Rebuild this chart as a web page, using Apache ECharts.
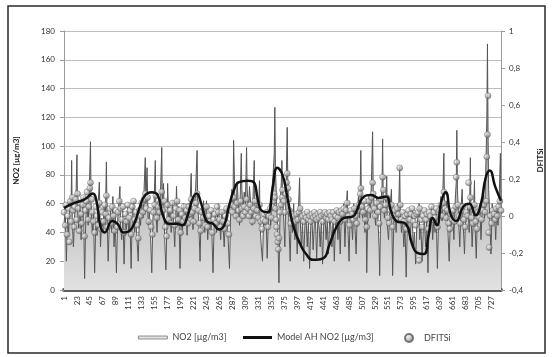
<!DOCTYPE html>
<html>
<head>
<meta charset="utf-8">
<script src="https://cdn.jsdelivr.net/npm/echarts@6/dist/echarts.min.js"></script>
<style>
  html, body { margin: 0; padding: 0; background: #fff; }
  #chart { width: 552px; height: 357px; }
</style>
</head>
<body>
<div id="chart"></div>
<script>
// days 1..743, labels every 22 days (1, 23, 45 ... 727)
const DAY_COUNT = 743;
const days = Array.from({ length: DAY_COUNT }, (_, i) => String(i + 1));

const no2 = [
  [1,45],[3,58],[5,20],[7,50],[9,40],[11,62],[13,55],[14,90],[15,48],[17,30],[19,52],[21,60],[23,94],[24,55],[26,42],[28,60],[30,35],[32,55],[34,65],[36,8],[38,50],[40,62],[42,45],[44,70],[46,103],[47,60],[49,40],[51,55],
  [53,12],[55,48],[57,38],[59,60],[61,75],[63,30],[65,50],[67,42],[69,58],[71,45],[73,89],[74,55],[76,20],[78,48],[80,55],[82,40],[84,65],[86,30],[88,52],[90,12],[92,48],[94,60],[96,72],[97,45],[99,35],[101,55],[103,18],[105,50],[107,42],[109,58],[111,38],[113,48],[115,15],[117,55],[119,62],[121,40],
  [123,50],[125,35],[127,20],[129,52],[131,45],[133,60],[135,50],[137,70],[139,92],[140,60],[142,85],[144,45],[146,55],[148,38],[150,12],[152,50],[154,60],[156,90],[157,55],[159,40],[161,62],[163,50],[165,70],[167,99],[168,60],[170,74],[172,35],[174,14],[176,50],[177,74],[179,45],[181,55],[183,40],[185,62],[187,48],[189,30],[191,55],[192,72],[194,45],[196,58],[198,15],[200,52],[202,40],[204,60],
  [206,45],[208,55],[210,38],[212,60],[214,50],[217,81],[218,55],[220,42],[222,58],[224,65],[227,97],[228,60],[230,45],[232,20],[234,55],[236,48],[238,62],[240,40],[243,62],[245,35],[247,50],[249,42],[251,55],[254,12],[256,48],[258,52],[260,40],[263,60],[265,48],[267,35],[269,55],[271,45],[273,30],[275,50],[277,58],[279,42],[282,15],[284,55],[286,70],[288,60],[289,104],[291,65],[293,50],[295,75],[297,60],[299,45],[302,95],[303,70],[305,55],[307,68],[309,60],[311,99],[312,70],[314,55],[316,72],[318,60],[320,45],[322,65],[324,90],[325,60],[327,50],[329,62],[331,55],[333,76],[334,45],[336,30],[338,20],[340,50],[342,45],[344,55],[346,22],[348,50],[350,60],[352,45],[354,70],[356,80],[358,95],[359,127],[360,85],[362,60],[364,40],[366,5],[368,60],[370,75],[371,90],[372,65],[374,50],[376,30],[378,70],[380,113],[381,75],[383,45],[385,20],
  [387,55],[389,40],[391,60],[393,35],[395,50],[397,25],[399,55],[401,78],[402,50],[404,30],[406,48],[408,20],[410,45],[412,50],[414,30],[416,48],[418,15],[420,45],[422,50],[424,28],[426,46],[428,50],[430,22],[432,48],[434,45],[436,30],[438,50],[440,18],[442,46],[444,52],[446,35],[448,48],[450,25],[452,50],[454,45],[456,30],[458,52],[460,20],[462,48],[464,55],[466,35],[468,50],[470,25],[472,55],[474,48],[476,60],[478,30],[480,55],[482,69],[483,45],[485,20],[487,55],[489,50],[491,35],[493,60],[495,45],[497,25],[499,55],[501,65],[503,50],[505,97],[506,60],
  [508,50],[510,62],[512,40],[514,55],[515,12],[517,58],[519,65],[521,50],[523,75],[525,110],[526,70],[528,55],[530,45],[532,65],[534,50],[536,30],[537,10],[539,60],[541,72],[542,105],[543,65],[545,50],[547,60],[549,79],[550,45],[552,35],[554,55],[557,70],[558,40],[559,10],[561,48],[563,55],[565,40],[567,60],[569,50],[571,86],[572,55],[574,40],[576,50],[578,30],[580,45],[582,9],[584,48],[586,52],[588,35],[590,45],[592,55],[594,30],[596,40],[598,18],[600,45],[602,50],[604,60],[605,35],[607,45],[609,20],[611,42],[613,50],[615,30],[617,48],[619,12],[621,50],[623,45],[625,58],[627,35],[629,50],[631,40],[633,55],[635,15],[637,50],
  [639,55],[641,65],[643,48],[646,95],[647,60],[649,50],[651,62],[653,40],[655,20],[657,50],[659,45],[661,55],[663,35],[665,60],[667,75],[668,111],[669,70],[671,50],[673,30],[675,55],[677,70],[679,45],[681,25],[683,55],[685,50],[687,60],[689,40],[691,92],[692,55],[694,30],[696,50],[698,76],[699,45],[701,22],[703,55],[705,48],[707,60],[709,35],[711,55],[713,70],[715,50],[717,80],[719,120],[720,171],[721,110],[722,70],[724,50],[726,25],[728,60],[730,48],[732,55],[734,35],[736,58],[738,45],[740,65],[742,95],[743,60]
];

// Model AH NO2 [µg/m3], [day, value]
const modelAH = [
  [1,57],[16,60],[36,63],[50,67],[56,62],[63,44],[70,40],[83,48],[92,46],[102,40],[112,41],[122,48],[130,58],[139,66],[150,68],[160,66],[169,52],[179,46],[192,46],[202,45],[211,52],[219,63],[226,67],[234,60],[243,48],[254,46],[264,42],[273,45],[281,58],[290,70],[298,75],[313,76],[323,75],[330,63],[337,55],[347,54],[355,70],[363,85],[372,80],[380,65],[390,45],[402,32],[412,25],[424,21],[441,22],[452,32],[464,44],[476,50],[491,51],[498,55],[508,64],[523,66],[535,64],[548,65],[556,55],[565,48],[581,46],[592,32],[600,26],[612,25],[620,38],[627,50],[634,45],[642,62],[649,68],[658,52],[667,48],[679,58],[689,60],[700,52],[709,60],[717,78],[724,83],[733,72],[743,62]
];

// DFITSi, [day, value]
const dfits = [
  [1,0.02],[3,-0.05],[4,0.06],[6,-0.1],[7,0.0],[9,0.04],[10,-0.14],[12,0.08],[13,-0.03],[15,0.1],[16,0.03],[18,-0.06],[19,0.05],[21,0.09],[22,-0.02],[24,0.12],[25,0.04],[27,-0.08],[28,0.07],[30,0.01],[31,-0.04],[33,0.06],[34,0.1],[36,-0.11],[37,0.03],[39,0.08],[40,0.13],[42,-0.02],[43,0.05],[45,0.15],[46,0.18],[48,0.09],[49,0.02],
  [51,-0.03],[53,-0.09],[55,0.05],[57,0.0],[59,-0.05],[61,0.07],[62,0.03],[64,-0.07],[66,0.02],[68,-0.03],[70,0.06],[72,0.01],[73,0.11],[75,-0.06],[77,-0.01],[79,0.04],[81,-0.04],[83,0.05],[85,0.0],[87,-0.08],[89,0.03],[91,-0.06],[93,0.02],[95,0.08],[97,0.04],[99,-0.02],[101,0.05],[103,-0.09],[105,0.01],[107,-0.03],[109,0.06],[111,-0.01],[113,0.03],[115,-0.1],[117,0.05],[119,0.08],[121,-0.02],[123,0.02],[125,-0.05],[127,-0.12],[129,0.03],
  [131,0.0],[133,0.07],[135,0.02],[137,0.09],[139,0.12],[141,0.04],[143,0.1],[145,-0.03],[147,0.03],[149,-0.06],[151,-0.1],[153,0.02],[155,0.06],[157,0.11],[159,-0.01],[161,0.05],[163,0.02],[165,0.07],[167,0.13],[169,0.03],[171,0.08],[173,-0.06],[175,-0.11],[177,0.06],[179,-0.02],[181,0.03],[183,-0.04],[185,0.07],[187,0.0],[189,-0.05],[191,0.04],[193,0.08],[195,-0.02],[197,0.03],[199,-0.09],[201,0.01],[203,-0.03],[205,0.05],[207,-0.01],[209,0.03],
  [211,-0.04],[213,0.05],[215,0.01],[217,0.09],[219,0.02],[221,-0.03],[223,0.04],[225,0.07],[227,0.12],[229,0.03],[231,-0.04],[233,-0.08],[235,0.02],[237,-0.01],[239,0.04],[241,-0.05],[243,0.05],[245,-0.06],[247,0.0],[249,-0.03],[251,0.03],[253,-0.09],[255,-0.02],[257,0.01],[259,-0.04],[261,0.05],[263,0.02],[265,-0.02],[267,-0.06],[269,0.02],[271,-0.03],[273,-0.07],[275,0.0],[277,0.04],[279,-0.04],[281,-0.1],[283,0.03],[285,0.06],[287,0.02],[289,0.1],
  [291,0.05],[293,0.0],[295,0.07],[297,0.03],[299,-0.02],[301,0.08],[303,0.04],[305,0.0],[307,0.05],[309,0.02],[311,0.09],[313,0.04],[315,0.0],[317,0.06],[319,0.02],[321,-0.03],[323,0.04],[325,0.08],[327,0.0],[329,0.03],[331,-0.01],[333,0.06],[335,-0.03],[337,-0.07],[339,-0.02],[341,0.01],[343,-0.03],[345,0.02],[347,-0.06],[349,0.0],[351,0.04],[353,-0.01],[355,0.05],[357,0.08],[358,0.12],[359,0.1],[360,0.04],[361,-0.02],[362,-0.06],[363,-0.1],[364,-0.14],[365,-0.18],[366,-0.12],[368,0.02],[370,0.06],[371,0.1],[372,0.14],[374,0.08],[376,0.02],[378,0.12],[379,0.18],[380,0.23],[381,0.15],[382,0.09],[384,0.03],[386,-0.04],[388,0.01],
  [390,-0.02],[392,0.0],[394,-0.03],[396,0.01],[398,-0.02],[400,0.02],[402,0.04],[404,-0.01],[406,0.0],[408,-0.03],[410,0.01],[412,-0.01],[414,0.02],[416,-0.02],[418,0.0],[420,-0.03],[422,0.01],[424,-0.01],[426,0.02],[428,0.0],[430,-0.02],[432,0.01],[434,-0.01],[436,0.02],[438,0.0],[440,-0.03],[442,0.01],[444,0.02],[446,-0.01],[448,0.01],[450,-0.02],[452,0.02],[454,0.0],[456,-0.02],[458,0.02],[460,-0.03],[462,0.0],[464,0.03],[466,-0.01],[468,0.02],[470,-0.03],[472,0.03],[474,0.01],[476,0.04],[478,-0.02],[480,0.03],[482,0.07],[484,0.0],[486,-0.05],[488,0.03],[490,0.01],[492,-0.02],[494,0.04],[496,0.0],[498,-0.04],
  [500,0.03],[502,0.06],[504,0.12],[505,0.15],[507,0.05],[509,0.02],[511,0.08],[513,-0.02],[515,-0.06],[517,0.04],[519,0.08],[521,0.03],[523,0.1],[525,0.18],[526,0.12],[528,0.04],[530,0.0],[532,0.07],[534,0.02],[536,-0.04],[538,0.05],[540,0.09],[542,0.21],[543,0.14],[545,0.03],[547,0.06],[549,0.1],[551,-0.01],[553,-0.04],[555,0.03],[557,0.06],[559,-0.06],
  [561,0.0],[563,0.03],[565,-0.02],[567,0.04],[569,0.01],[571,0.26],[572,0.06],[574,-0.02],[576,0.02],[578,-0.03],[580,0.0],[582,-0.07],[584,0.01],[586,0.03],[588,-0.02],[590,0.01],[592,0.04],[594,-0.03],[596,0.0],[598,-0.05],[600,0.01],[602,0.02],[604,-0.24],[605,0.04],[607,-0.02],[609,-0.06],[611,0.0],[613,0.03],[615,-0.02],[617,0.01],[619,-0.07],[621,0.02],[623,0.0],[625,0.05],[627,-0.02],[629,0.02],[631,-0.01],[633,0.04],[635,-0.06],[637,0.02],
  [639,0.03],[641,0.06],[643,0.0],[645,0.07],[646,0.13],[648,0.04],[650,-0.01],[652,0.03],[654,-0.04],[656,-0.07],[658,0.01],[660,-0.02],[662,0.03],[664,-0.03],[666,0.05],[667,0.21],[668,0.29],[670,0.06],[672,0.0],[674,-0.04],[676,0.03],[678,0.05],[680,-0.02],[682,-0.06],[684,0.02],[686,0.0],[688,0.18],[690,0.05],[691,0.1],[693,-0.01],[695,-0.04],[697,0.03],[698,0.06],[700,-0.03],[702,-0.07],[704,0.02],[706,-0.01],[708,0.04],[710,-0.02],[712,0.03],[714,0.06],[716,0.02],[718,0.08],[719,0.32],[720,0.44],[721,0.65],[722,-0.09],[723,-0.17],[725,0.0],[727,-0.04],[729,0.03],[731,0.01],[733,-0.02],[735,0.04],[737,0.0],[739,0.05],[741,0.08],[743,0.03]
];

const FONT = 'Lato, "Open Sans", sans-serif';
const toIdx = arr => arr.map(([d, v]) => [d - 1, v]);

const sphere = new echarts.graphic.RadialGradient(0.35, 0.3, 0.75, [
  { offset: 0, color: '#f4f4f4' },
  { offset: 0.45, color: '#c2c2c2' },
  { offset: 1, color: '#5e5e5e' },
]);

const chart = echarts.init(document.getElementById('chart'), null, { renderer: 'canvas' });
chart.setOption({
  animation: false,
  backgroundColor: '#fff',
  textStyle: { fontFamily: FONT },
  graphic: [{
    type: 'rect',
    shape: { x: 8, y: 6, width: 537, height: 347 },
    style: { fill: 'none', stroke: '#2a2a2a', lineWidth: 1.5 },
    silent: true,
  }],
  legend: [
    {
      data: [{ name: 'NO2 [µg/m3]', icon: 'rect', itemStyle: { color: '#e2e2e2', borderColor: '#777', borderWidth: 0.8 } }],
      left: 133, top: 328, itemWidth: 29, itemHeight: 3,
      textStyle: { color: '#444', fontSize: 9, fontFamily: FONT },
    },
    {
      data: [{ name: 'Model AH NO2 [µg/m3]', icon: 'rect', itemStyle: { color: '#111' } }],
      left: 238, top: 328, itemWidth: 29, itemHeight: 3,
      textStyle: { color: '#444', fontSize: 9, fontFamily: FONT },
    },
    {
      data: [{ name: 'DFITSi', icon: 'circle' }],
      left: 399, top: 328, itemWidth: 8, itemHeight: 8, itemGap: 8,
      textStyle: { color: '#444', fontSize: 9, fontFamily: FONT, padding: [0, 0, 0, 6] },
    },
  ],
  grid: { left: 64, right: 45, top: 31, bottom: 67, containLabel: false },
  xAxis: {
    type: 'category',
    data: days,
    boundaryGap: false,
    axisLine: { lineStyle: { color: '#5c5c5c', width: 4 } },
    axisTick: { show: false },
    axisLabel: { interval: 21, rotate: 90, color: '#333', fontSize: 8, margin: 6, fontFamily: FONT },
    splitLine: { show: false },
  },
  yAxis: [
    {
      type: 'value',
      min: 0, max: 180, interval: 20,
      name: 'NO2 [µg/m3]',
      nameLocation: 'middle', nameRotate: 90, nameGap: 44,
      nameTextStyle: { color: '#222', fontSize: 8, fontWeight: 'bold', fontFamily: FONT },
      axisLine: { show: true, lineStyle: { color: '#9a9a9a' } },
      axisTick: { show: true, length: 4, lineStyle: { color: '#9a9a9a' } },
      axisLabel: { color: '#333', fontSize: 8, margin: 9, fontFamily: FONT },
      splitLine: { lineStyle: { color: '#bdbdbd', width: 1.2 } },
    },
    {
      type: 'value',
      min: -0.4, max: 1, interval: 0.2,
      name: 'DFITSi',
      nameLocation: 'middle', nameRotate: 90, nameGap: 35,
      nameTextStyle: { color: '#222', fontSize: 8, fontWeight: 'bold', fontFamily: FONT },
      axisLine: { show: true, lineStyle: { color: '#9a9a9a' } },
      axisTick: { show: true, length: 4, lineStyle: { color: '#9a9a9a' } },
      axisLabel: {
        color: '#333', fontSize: 8, margin: 8, fontFamily: FONT,
        formatter: v => String(+v.toFixed(1)).replace('.', ','),
      },
      splitLine: { show: false },
    },
  ],
  series: [
    {
      name: 'NO2 [µg/m3]',
      type: 'line',
      data: toIdx(no2),
      symbol: 'none',
      lineStyle: { color: '#555', width: 1 },
      areaStyle: {
        opacity: 1,
        color: new echarts.graphic.LinearGradient(0, 0, 0, 1, [
          { offset: 0, color: '#7a7a7a' },
          { offset: 0.6, color: '#bcbcbc' },
          { offset: 1, color: '#e2e2e2' },
        ]),
      },
      itemStyle: { color: '#e2e2e2' },
      z: 1,
    },
    {
      name: 'DFITSi',
      type: 'scatter',
      yAxisIndex: 1,
      data: toIdx(dfits),
      symbolSize: 6,
      itemStyle: { color: sphere, borderColor: '#5a5a5a', borderWidth: 0.5 },
      z: 2,
    },
    {
      name: 'Model AH NO2 [µg/m3]',
      type: 'line',
      data: toIdx(modelAH),
      smooth: 0.5,
      symbol: 'none',
      lineStyle: { color: '#111', width: 2.5 },
      itemStyle: { color: '#111' },
      z: 3,
    },
  ],
});
</script>
</body>
</html>
